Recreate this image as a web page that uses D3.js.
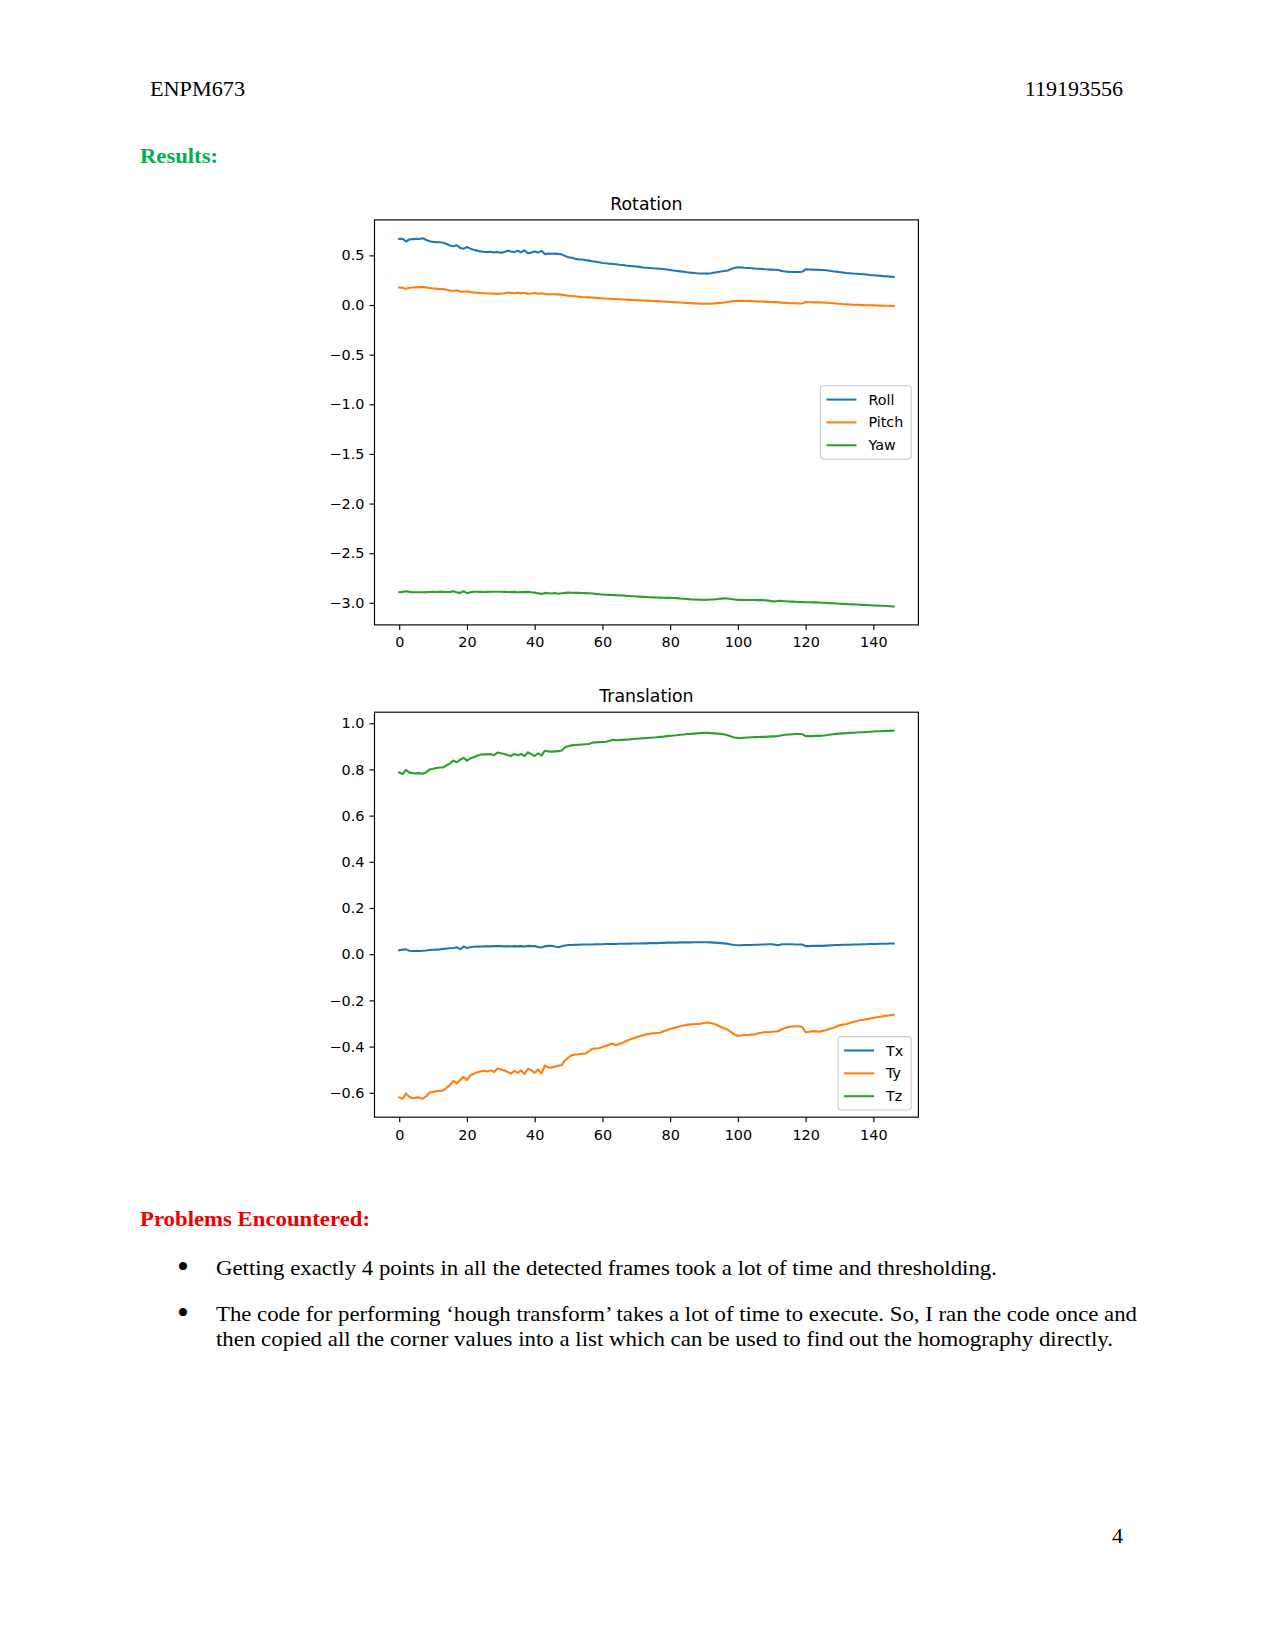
<!DOCTYPE html>
<html>
<head>
<meta charset="utf-8">
<script src="https://cdn.jsdelivr.net/npm/d3@7"></script>
<style>
  html, body { margin: 0; padding: 0; background: #fff; }
  svg { display: block; }
</style>
</head>
<body>
<svg id="page" width="1275" height="1650"></svg>
<script>
// ---------------- DATA ----------------
const rotationLabels = ["Roll", "Pitch", "Yaw"];
const translationLabels = ["Tx", "Ty", "Tz"];
const xTicks = [0, 20, 40, 60, 80, 100, 120, 140];
const rotationYTicks = [-3.0, -2.5, -2.0, -1.5, -1.0, -0.5, 0.0, 0.5];
const translationYTicks = [-0.6, -0.4, -0.2, 0.0, 0.2, 0.4, 0.6, 0.8, 1.0];

const roll = [0.666,0.668,0.640,0.660,0.664,0.666,0.665,0.672,0.655,0.642,0.636,0.634,0.633,0.628,0.615,0.600,0.592,0.602,0.575,0.566,
0.585,0.568,0.556,0.548,0.540,0.536,0.533,0.537,0.530,0.534,0.526,0.533,0.548,0.540,0.533,0.546,0.532,0.550,0.522,0.528,
0.540,0.528,0.546,0.513,0.518,0.516,0.518,0.514,0.510,0.493,0.480,0.476,0.465,0.460,0.458,0.452,0.447,0.441,0.436,0.430,
0.424,0.420,0.416,0.414,0.410,0.406,0.403,0.398,0.394,0.391,0.388,0.384,0.378,0.376,0.373,0.370,0.368,0.366,0.362,0.358,
0.353,0.347,0.343,0.339,0.335,0.330,0.326,0.323,0.320,0.318,0.317,0.316,0.320,0.326,0.333,0.338,0.342,0.348,0.362,0.374,
0.380,0.378,0.375,0.373,0.371,0.368,0.366,0.364,0.360,0.357,0.357,0.356,0.352,0.342,0.338,0.334,0.333,0.333,0.333,0.335,
0.360,0.358,0.357,0.356,0.354,0.353,0.350,0.345,0.340,0.336,0.331,0.327,0.323,0.320,0.317,0.315,0.313,0.310,0.307,0.303,
0.300,0.297,0.294,0.291,0.289,0.286,0.283];

const pitch = [0.176,0.175,0.163,0.174,0.176,0.178,0.180,0.180,0.178,0.172,0.167,0.165,0.162,0.160,0.154,0.146,0.143,0.146,0.135,0.133,
0.138,0.130,0.126,0.123,0.121,0.119,0.117,0.116,0.115,0.114,0.113,0.118,0.125,0.122,0.118,0.123,0.117,0.121,0.113,0.116,
0.121,0.114,0.118,0.110,0.109,0.108,0.108,0.107,0.105,0.099,0.094,0.091,0.087,0.084,0.081,0.079,0.077,0.075,0.072,0.069,
0.066,0.065,0.063,0.061,0.060,0.058,0.056,0.054,0.052,0.050,0.048,0.047,0.045,0.044,0.042,0.041,0.039,0.037,0.035,0.033,
0.031,0.029,0.027,0.025,0.023,0.021,0.019,0.017,0.015,0.014,0.013,0.013,0.014,0.016,0.019,0.022,0.026,0.031,0.037,0.041,
0.043,0.042,0.041,0.040,0.039,0.038,0.036,0.035,0.034,0.032,0.031,0.029,0.027,0.024,0.022,0.020,0.018,0.017,0.016,0.017,
0.029,0.028,0.028,0.027,0.027,0.026,0.024,0.021,0.018,0.015,0.012,0.009,0.007,0.005,0.003,0.002,0.000,-0.001,-0.002,-0.003,
-0.004,-0.005,-0.006,-0.007,-0.008,-0.009,-0.010];

const yaw = [-2.893,-2.890,-2.883,-2.890,-2.893,-2.893,-2.894,-2.893,-2.892,-2.891,-2.890,-2.891,-2.890,-2.890,-2.891,-2.890,-2.884,-2.895,-2.900,-2.883,
-2.903,-2.893,-2.889,-2.889,-2.890,-2.891,-2.890,-2.889,-2.889,-2.888,-2.889,-2.890,-2.891,-2.892,-2.890,-2.893,-2.891,-2.892,-2.890,-2.894,
-2.897,-2.903,-2.910,-2.900,-2.903,-2.906,-2.902,-2.909,-2.904,-2.900,-2.897,-2.898,-2.900,-2.900,-2.901,-2.902,-2.903,-2.906,-2.910,-2.913,
-2.917,-2.918,-2.920,-2.922,-2.923,-2.925,-2.927,-2.930,-2.932,-2.934,-2.936,-2.938,-2.940,-2.942,-2.944,-2.945,-2.947,-2.948,-2.949,-2.950,
-2.950,-2.951,-2.953,-2.956,-2.959,-2.962,-2.965,-2.967,-2.968,-2.969,-2.970,-2.969,-2.967,-2.965,-2.962,-2.958,-2.954,-2.956,-2.962,-2.967,
-2.970,-2.970,-2.971,-2.971,-2.972,-2.972,-2.973,-2.973,-2.974,-2.978,-2.983,-2.987,-2.980,-2.982,-2.984,-2.986,-2.988,-2.990,-2.992,-2.993,
-2.995,-2.995,-2.996,-2.996,-2.997,-2.999,-3.001,-3.003,-3.005,-3.007,-3.009,-3.011,-3.013,-3.015,-3.016,-3.017,-3.019,-3.021,-3.023,-3.025,
-3.027,-3.028,-3.029,-3.030,-3.032,-3.034,-3.037];

const tx = [0.017,0.020,0.021,0.015,0.014,0.014,0.014,0.015,0.016,0.018,0.019,0.020,0.021,0.023,0.025,0.026,0.027,0.030,0.022,0.033,
0.027,0.030,0.032,0.033,0.033,0.034,0.034,0.034,0.035,0.035,0.035,0.034,0.035,0.033,0.035,0.034,0.035,0.033,0.036,0.035,
0.035,0.031,0.029,0.034,0.036,0.036,0.033,0.030,0.034,0.038,0.040,0.040,0.041,0.041,0.042,0.042,0.042,0.042,0.043,0.043,
0.043,0.044,0.044,0.044,0.044,0.045,0.045,0.045,0.045,0.046,0.046,0.046,0.047,0.047,0.048,0.048,0.048,0.049,0.049,0.050,
0.050,0.050,0.050,0.051,0.051,0.051,0.051,0.052,0.052,0.052,0.052,0.052,0.051,0.050,0.049,0.048,0.047,0.045,0.042,0.040,
0.039,0.039,0.040,0.040,0.040,0.041,0.041,0.042,0.042,0.043,0.043,0.041,0.039,0.043,0.043,0.043,0.043,0.042,0.042,0.042,
0.035,0.035,0.036,0.036,0.036,0.036,0.037,0.038,0.039,0.040,0.040,0.041,0.041,0.041,0.042,0.042,0.042,0.043,0.043,0.044,
0.044,0.044,0.045,0.045,0.045,0.046,0.046];

const ty = [-0.620,-0.626,-0.603,-0.618,-0.624,-0.620,-0.621,-0.626,-0.614,-0.599,-0.596,-0.593,-0.592,-0.590,-0.578,-0.567,-0.548,-0.560,-0.545,-0.531,
-0.545,-0.524,-0.518,-0.511,-0.508,-0.505,-0.508,-0.503,-0.510,-0.495,-0.499,-0.503,-0.510,-0.517,-0.505,-0.514,-0.503,-0.519,-0.496,-0.503,
-0.514,-0.499,-0.517,-0.482,-0.490,-0.491,-0.486,-0.483,-0.480,-0.459,-0.447,-0.437,-0.434,-0.433,-0.431,-0.430,-0.420,-0.410,-0.408,-0.407,
-0.402,-0.397,-0.392,-0.387,-0.394,-0.389,-0.383,-0.376,-0.370,-0.365,-0.360,-0.355,-0.351,-0.347,-0.344,-0.342,-0.341,-0.340,-0.334,-0.329,
-0.324,-0.320,-0.316,-0.312,-0.309,-0.306,-0.304,-0.303,-0.302,-0.301,-0.298,-0.296,-0.298,-0.302,-0.308,-0.315,-0.321,-0.327,-0.337,-0.348,
-0.354,-0.352,-0.349,-0.350,-0.348,-0.347,-0.342,-0.340,-0.337,-0.338,-0.336,-0.335,-0.333,-0.325,-0.319,-0.315,-0.313,-0.312,-0.312,-0.315,
-0.338,-0.336,-0.333,-0.334,-0.336,-0.332,-0.329,-0.324,-0.320,-0.314,-0.308,-0.305,-0.302,-0.298,-0.294,-0.290,-0.286,-0.284,-0.281,-0.278,
-0.275,-0.273,-0.271,-0.268,-0.266,-0.264,-0.262];

const tz = [0.787,0.780,0.798,0.786,0.784,0.783,0.784,0.781,0.788,0.800,0.803,0.806,0.808,0.809,0.818,0.826,0.838,0.831,0.842,0.850,
0.838,0.848,0.853,0.859,0.864,0.865,0.865,0.866,0.862,0.873,0.870,0.867,0.862,0.858,0.867,0.861,0.867,0.858,0.874,0.866,
0.858,0.870,0.860,0.881,0.878,0.877,0.878,0.879,0.882,0.896,0.901,0.904,0.906,0.907,0.908,0.909,0.910,0.916,0.917,0.918,
0.919,0.920,0.923,0.928,0.926,0.927,0.928,0.929,0.930,0.932,0.933,0.934,0.935,0.936,0.937,0.938,0.939,0.941,0.942,0.944,
0.945,0.947,0.948,0.950,0.951,0.953,0.954,0.955,0.956,0.957,0.958,0.958,0.957,0.956,0.955,0.954,0.951,0.948,0.943,0.938,
0.936,0.936,0.937,0.938,0.939,0.940,0.940,0.941,0.941,0.942,0.943,0.943,0.945,0.948,0.950,0.951,0.952,0.953,0.953,0.953,
0.944,0.944,0.944,0.945,0.945,0.946,0.948,0.950,0.952,0.954,0.955,0.956,0.957,0.958,0.959,0.960,0.961,0.961,0.962,0.963,
0.964,0.965,0.965,0.966,0.967,0.967,0.968];

const seriesColors = ["#1f77b4", "#ff7f0e", "#2ca02c"];

// ---------------- PAGE ----------------
const svg = d3.select("#page");
const serif = "'Liberation Serif', 'Times New Roman', serif";
const sans = "'DejaVu Sans', sans-serif";

svg.append("rect").attr("width", 1275).attr("height", 1650).attr("fill", "#fff");

function pageText(x, y, str, opts = {}) {
  const t = svg.append("text")
    .attr("x", x).attr("y", y)
    .attr("font-family", serif)
    .attr("font-size", opts.size || 22)
    .attr("font-weight", opts.bold ? "bold" : "normal")
    .attr("fill", opts.color || "#000")
    .attr("text-anchor", opts.anchor || "start")
    .text(str);
  if (opts.len) t.attr("textLength", opts.len).attr("lengthAdjust", "spacingAndGlyphs");
  return t;
}

pageText(150, 96, "ENPM673", {len: 95});
pageText(1123, 96, "119193556", {anchor: "end"});
pageText(140, 163, "Results:", {bold: true, color: "#00b050", len: 78});
pageText(140, 1226, "Problems Encountered:", {bold: true, color: "#ee0000", len: 230});
pageText(183, 1278, "•", {anchor: "middle", size: 34});
pageText(216, 1275, "Getting exactly 4 points in all the detected frames took a lot of time and thresholding.", {len: 781});
pageText(183, 1324, "•", {anchor: "middle", size: 34});
pageText(216, 1321, "The code for performing \u2018hough transform\u2019 takes a lot of time to execute. So, I ran the code once and", {len: 921});
pageText(216, 1346, "then copied all the corner values into a list which can be used to find out the homography directly.", {len: 897});
pageText(1123, 1543, "4", {anchor: "end"});

// ---------------- CHARTS ----------------
function paddedDomain(arrays) {
  const all = arrays.flat();
  const [lo, hi] = d3.extent(all);
  const pad = (hi - lo) * 0.05;
  return [lo - pad, hi + pad];
}

function drawChart(cfg) {
  const {left, right, top, bottom, title, series, labels, yTicks, legendPos} = cfg;
  const g = svg.append("g");
  const n = series[0].length;
  const xDom = [0 - (n - 1) * 0.05, (n - 1) * 1.05];
  const x = d3.scaleLinear().domain(xDom).range([left, right]);
  const y = d3.scaleLinear().domain(paddedDomain(series)).range([bottom, top]);

  const clipId = "clip" + Math.round(top);
  g.append("clipPath").attr("id", clipId)
    .append("rect").attr("x", left).attr("y", top).attr("width", right - left).attr("height", bottom - top);

  const line = d3.line().x((d, i) => x(i)).y(d => y(d));
  series.forEach((s, k) => {
    g.append("path")
      .attr("d", line(s))
      .attr("fill", "none")
      .attr("stroke", seriesColors[k])
      .attr("stroke-width", 2.1)
      .attr("stroke-linejoin", "round")
      .attr("stroke-linecap", "square")
      .attr("clip-path", `url(#${clipId})`);
  });

  const fmt = d3.format(".1f");
  const xAxis = d3.axisBottom(x).tickValues(xTicks).tickSize(5).tickPadding(6).tickSizeOuter(0).tickFormat(d3.format("d"));
  const yAxis = d3.axisLeft(y).tickValues(yTicks).tickSize(5).tickPadding(5).tickSizeOuter(0).tickFormat(fmt);

  const gx = g.append("g").attr("transform", `translate(0,${bottom})`).call(xAxis);
  const gy = g.append("g").attr("transform", `translate(${left},0)`).call(yAxis);
  [gx, gy].forEach(a => {
    a.select(".domain").remove();
    a.selectAll("line").attr("stroke", "#000").attr("stroke-width", 1.15);
    a.selectAll("text").attr("font-family", sans).attr("font-size", 14.4).attr("fill", "#000");
  });
  gx.selectAll("text").attr("dy", "0.8em");

  g.append("rect")
    .attr("x", left).attr("y", top).attr("width", right - left).attr("height", bottom - top)
    .attr("fill", "none").attr("stroke", "#000").attr("stroke-width", 1.15);

  g.append("text")
    .attr("x", (left + right) / 2).attr("y", top - 10)
    .attr("text-anchor", "middle")
    .attr("font-family", sans).attr("font-size", 17.3).attr("fill", "#000")
    .text(title);

  const fs = 14.3, borderpad = 6, rowH = 15.7, spacing = 7.15, handleLen = 30, handlePad = 12;
  const lg = g.append("g");
  const box = lg.append("rect");
  const texts = labels.map((lab, k) => lg.append("text")
    .attr("font-family", sans).attr("font-size", fs).attr("fill", "#000")
    .attr("dominant-baseline", "central")
    .text(lab));
  const tw = d3.max(texts, t => t.node().getComputedTextLength());
  const w = borderpad * 2 + handleLen + handlePad + tw + 2;
  const h = borderpad * 2 + labels.length * rowH + (labels.length - 1) * spacing;
  const bx = right - 7.15 - w;
  const by = legendPos === "center right" ? (top + bottom) / 2 - h / 2 : bottom - 7.15 - h;
  box.attr("x", bx).attr("y", by).attr("width", w).attr("height", h)
    .attr("rx", 3).attr("fill", "#fff").attr("fill-opacity", 0.8)
    .attr("stroke", "#cccccc").attr("stroke-width", 1.1);
  labels.forEach((lab, k) => {
    const cy = by + borderpad + rowH / 2 + k * (rowH + spacing);
    lg.append("line")
      .attr("x1", bx + borderpad).attr("x2", bx + borderpad + handleLen)
      .attr("y1", cy).attr("y2", cy)
      .attr("stroke", seriesColors[k]).attr("stroke-width", 2.1);
    texts[k].attr("x", bx + borderpad + handleLen + handlePad).attr("y", cy);
  });
}

drawChart({
  left: 374.5, right: 918.4, top: 219.9, bottom: 624.9,
  title: "Rotation", series: [roll, pitch, yaw], labels: rotationLabels,
  yTicks: rotationYTicks, legendPos: "center right"
});

drawChart({
  left: 374.5, right: 918.4, top: 712.2, bottom: 1117.2,
  title: "Translation", series: [tx, ty, tz], labels: translationLabels,
  yTicks: translationYTicks, legendPos: "lower right"
});
</script>
</body>
</html>
